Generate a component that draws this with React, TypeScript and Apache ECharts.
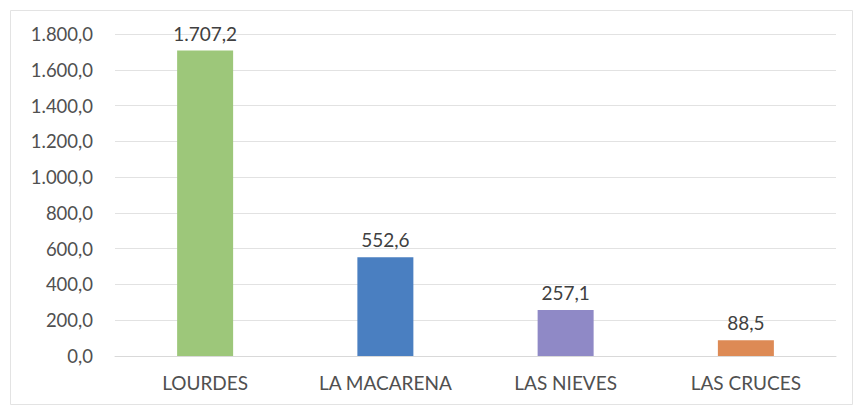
import React, { useEffect, useRef } from "react";
import * as echarts from "echarts";

const categories = ["LOURDES", "LA MACARENA", "LAS NIEVES", "LAS CRUCES"];
const values = [1707.2, 552.6, 257.1, 88.5];
const barColors = ["#9dc77a", "#4a7fc1", "#8f89c6", "#dd8a55"];

function fmt(v: number): string {
  const fixed = v.toFixed(1);
  const [intPart, dec] = fixed.split(".");
  const withDots = intPart.replace(/\B(?=(\d{3})+(?!\d))/g, ".");
  return withDots + "," + dec;
}

export default function App() {
  const ref = useRef<HTMLDivElement>(null);
  useEffect(() => {
    if (!ref.current) return;
    const chart = echarts.init(ref.current, undefined, { renderer: "svg" });
    chart.setOption({
      animation: false,
      backgroundColor: "#ffffff",
      textStyle: { fontFamily: "Lato" },
      graphic: [
        {
          type: "rect",
          shape: { x: 10.5, y: 10.5, width: 842, height: 394 },
          style: { fill: "none", stroke: "#e3e3e3", lineWidth: 1 },
          silent: true,
        },
      ],
      grid: { left: 115, right: 24, top: 34, bottom: 52 },
      xAxis: {
        type: "category",
        data: categories,
        axisLine: { show: true, lineStyle: { color: "#d9d9d9" } },
        axisTick: { show: false },
        axisLabel: { color: "#505050", fontSize: 19, margin: 17, fontFamily: "Lato" },
      },
      yAxis: {
        type: "value",
        min: 0,
        max: 1800,
        interval: 200,
        axisLine: { show: false },
        axisTick: { show: false },
        splitLine: { lineStyle: { color: "#e2e2e2" } },
        axisLabel: {
          color: "#505050",
          fontSize: 18.5,
          margin: 22,
          fontFamily: "Lato",
          formatter: (v: number) => fmt(v),
        },
      },
      series: [
        {
          type: "bar",
          barWidth: 56,
          data: values.map((v, i) => ({ value: v, itemStyle: { color: barColors[i] } })),
          label: {
            show: true,
            position: "top",
            distance: 8,
            color: "#404040",
            fontSize: 19,
            fontFamily: "Lato",
            formatter: (p: any) => fmt(p.value),
          },
        },
      ],
    });
    return () => chart.dispose();
  }, []);
  return (
    <div
      ref={ref}
      style={{ position: "fixed", left: 0, top: 0, width: 860, height: 408 }}
    />
  );
}
